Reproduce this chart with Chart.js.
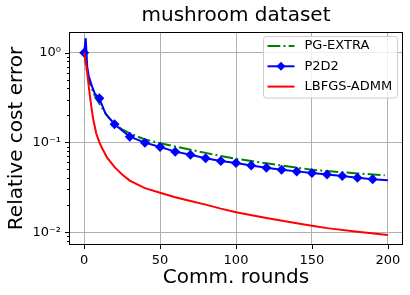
<!DOCTYPE html>
<html>
<head>
<meta charset="utf-8">
<script src="https://cdn.jsdelivr.net/npm/chart.js@4"></script>
<style>
  body { margin: 0; background: #fff; }
</style>
</head>
<body>
<canvas id="myChart" width="410" height="295"></canvas>
<script>
// values
const pgRounds = [0, 1, 2, 3, 5, 7, 10, 15, 20, 25, 30, 40, 50, 60, 70, 80, 90, 100, 110, 120, 130, 140, 150, 160, 170, 180, 190, 198];
const pgError = [1.0, 0.75, 0.6, 0.5, 0.4, 0.33, 0.27, 0.2, 0.16, 0.14, 0.126, 0.108, 0.098, 0.09, 0.083, 0.0765, 0.0706, 0.0657, 0.062, 0.0585, 0.0555, 0.0525, 0.0497, 0.048, 0.0465, 0.0452, 0.044, 0.043];

const p2d2Rounds = [0, 1, 2, 3, 5, 7, 10, 14, 20, 30, 40, 50, 60, 70, 80, 90, 100, 110, 120, 130, 140, 150, 160, 170, 180, 190, 200];
const p2d2Error = [1.0, 1.45, 0.7, 0.55, 0.43, 0.35, 0.31, 0.21, 0.159, 0.116, 0.0995, 0.089, 0.079, 0.0728, 0.0668, 0.062, 0.0589, 0.0555, 0.0523, 0.0497, 0.0476, 0.0457, 0.0438, 0.0423, 0.0405, 0.039, 0.038];

const lbfgsRounds = [0, 1, 2, 3, 4, 5, 6, 8, 10, 12, 15, 20, 25, 30, 40, 50, 60, 70, 80, 90, 100, 120, 140, 150, 160, 180, 200];
const lbfgsError = [1.0, 0.8, 0.6, 0.42, 0.31, 0.23, 0.18, 0.125, 0.1, 0.085, 0.068, 0.053, 0.044, 0.0376, 0.031, 0.0275, 0.0245, 0.0223, 0.0203, 0.0183, 0.0167, 0.0144, 0.0126, 0.0118, 0.0111, 0.0101, 0.0093];

const xTicks = [0, 50, 100, 150, 200];

const toPoints = (xs, ys) => xs.map((x, i) => ({ x: x, y: ys[i] }));

const sup = { '-': '\u207B', '0': '\u2070', '1': '\u00B9', '2': '\u00B2', '3': '\u00B3' };
function isPow10(v) {
    const e = Math.log10(v);
    return Math.abs(e - Math.round(e)) < 1e-9;
}

// matplotlib-like frame + tick marks
const axesFrame = {
    id: 'axesFrame',
    afterDatasetsDraw(chart) {
        const { ctx, chartArea: a, scales: { x, y } } = chart;
        ctx.save();
        ctx.strokeStyle = '#000';
        ctx.lineWidth = 1;
        ctx.strokeRect(a.left + 0.5, a.top + 0.5, a.right - a.left - 1, a.bottom - a.top - 1);
        ctx.beginPath();
        for (let t of x.ticks) {
            const px = Math.round(x.getPixelForValue(t.value)) + 0.5;
            ctx.moveTo(px, a.bottom);
            ctx.lineTo(px, a.bottom + 4);
        }
        for (let t of y.ticks) {
            const py = Math.round(y.getPixelForValue(t.value)) + 0.5;
            const len = isPow10(t.value) ? 4 : 2;
            ctx.moveTo(a.left, py);
            ctx.lineTo(a.left - len, py);
        }
        ctx.stroke();
        ctx.restore();
    }
};

// legend inside the plot, upper right
const insideLegend = {
    id: 'insideLegend',
    afterDraw(chart) {
        const ctx = chart.ctx;
        const a = chart.chartArea;
        const bx = a.right - 139.5, by = a.top + 4.5, bw = 134, bh = 61.5;
        ctx.save();
        ctx.beginPath();
        ctx.roundRect(bx, by, bw, bh, 3);
        ctx.fillStyle = 'rgba(255,255,255,0.8)';
        ctx.fill();
        ctx.strokeStyle = '#cccccc';
        ctx.lineWidth = 1;
        ctx.stroke();
        chart.data.datasets.forEach((ds, i) => {
            const ly = by + 9.5 + i * 20.3;
            ctx.beginPath();
            ctx.setLineDash(ds.borderDash || []);
            ctx.strokeStyle = ds.borderColor;
            ctx.lineWidth = ds.borderWidth;
            ctx.moveTo(bx + 4, ly);
            ctx.lineTo(bx + 31, ly);
            ctx.stroke();
            ctx.setLineDash([]);
            if (ds.legendMarker) {
                const cx = bx + 17.5, r = 4.5;
                ctx.beginPath();
                ctx.moveTo(cx, ly - r);
                ctx.lineTo(cx + r, ly);
                ctx.lineTo(cx, ly + r);
                ctx.lineTo(cx - r, ly);
                ctx.closePath();
                ctx.fillStyle = ds.borderColor;
                ctx.fill();
            }
            ctx.fillStyle = '#000';
            ctx.font = '13px "DejaVu Sans"';
            ctx.textBaseline = 'middle';
            ctx.fillText(ds.label, bx + 41, ly);
        });
        ctx.restore();
    }
};

Chart.defaults.font.family = '"DejaVu Sans"';
Chart.defaults.color = '#000';

const ctx = document.getElementById('myChart').getContext('2d');
new Chart(ctx, {
    type: 'line',
    data: {
        datasets: [{
            label: 'PG-EXTRA',
            data: toPoints(pgRounds, pgError),
            borderColor: '#008000',
            borderWidth: 2,
            borderDash: [12.8, 3.2, 2, 3.2],
            pointRadius: 0,
            order: 3
        },
        {
            label: 'P2D2',
            data: toPoints(p2d2Rounds, p2d2Error),
            borderColor: '#0000ff',
            backgroundColor: '#0000ff',
            borderWidth: 2,
            pointStyle: 'rectRot',
            pointRadius: (c) => (c.raw && c.raw.x % 10 === 0 && c.raw.x <= 190) ? 5 : 0,
            pointBorderWidth: 0,
            legendMarker: true,
            order: 2
        },
        {
            label: 'LBFGS-ADMM',
            data: toPoints(lbfgsRounds, lbfgsError),
            borderColor: '#ff0000',
            borderWidth: 2,
            pointRadius: 0,
            order: 1
        }]
    },
    options: {
        responsive: false,
        animation: false,
        layout: { padding: { top: 0, right: 7, bottom: 0, left: 0 } },
        plugins: {
            legend: { display: false },
            tooltip: { enabled: false },
            title: {
                display: true,
                text: 'mushroom dataset',
                fullSize: false,
                font: { size: 20, weight: 'normal' },
                color: '#000',
                padding: { top: 4, bottom: 4 }
            }
        },
        scales: {
            x: {
                type: 'linear',
                min: -10,
                max: 210,
                afterBuildTicks: (scale) => { scale.ticks = xTicks.map(v => ({ value: v })); },
                afterFit: (scale) => { scale.height = 50; },
                ticks: { font: { size: 13 }, padding: 8, maxRotation: 0 },
                grid: { color: '#b0b0b0', lineWidth: 1, drawTicks: false },
                border: { display: false },
                title: {
                    display: true,
                    text: 'Comm. rounds',
                    font: { size: 20 },
                    padding: { top: 0, bottom: 5 }
                }
            },
            y: {
                type: 'logarithmic',
                min: 0.0072,
                max: 1.7,
                afterBuildTicks: (scale) => {
                    scale.ticks = scale.ticks.filter(t => {
                        const s = t.value / Math.pow(10, Math.floor(Math.log10(t.value) + 1e-9));
                        return Math.abs(s - Math.round(s)) < 1e-6;
                    });
                },
                afterFit: (scale) => { scale.width = 69; },
                ticks: {
                    autoSkip: false,
                    font: { size: 13 },
                    padding: 8,
                    callback: (v) => {
                        if (!isPow10(v)) return '';
                        const e = String(Math.round(Math.log10(v)));
                        return '10' + e.split('').map(ch => sup[ch]).join('');
                    }
                },
                grid: {
                    color: (c) => (c.tick && isPow10(c.tick.value)) ? '#b0b0b0' : 'rgba(0,0,0,0)',
                    lineWidth: 1,
                    drawTicks: false
                },
                border: { display: false },
                title: {
                    display: true,
                    text: 'Relative cost error',
                    font: { size: 20 },
                    padding: { top: 5, bottom: 0 }
                }
            }
        }
    },
    plugins: [axesFrame, insideLegend]
});
</script>
</body>
</html>
